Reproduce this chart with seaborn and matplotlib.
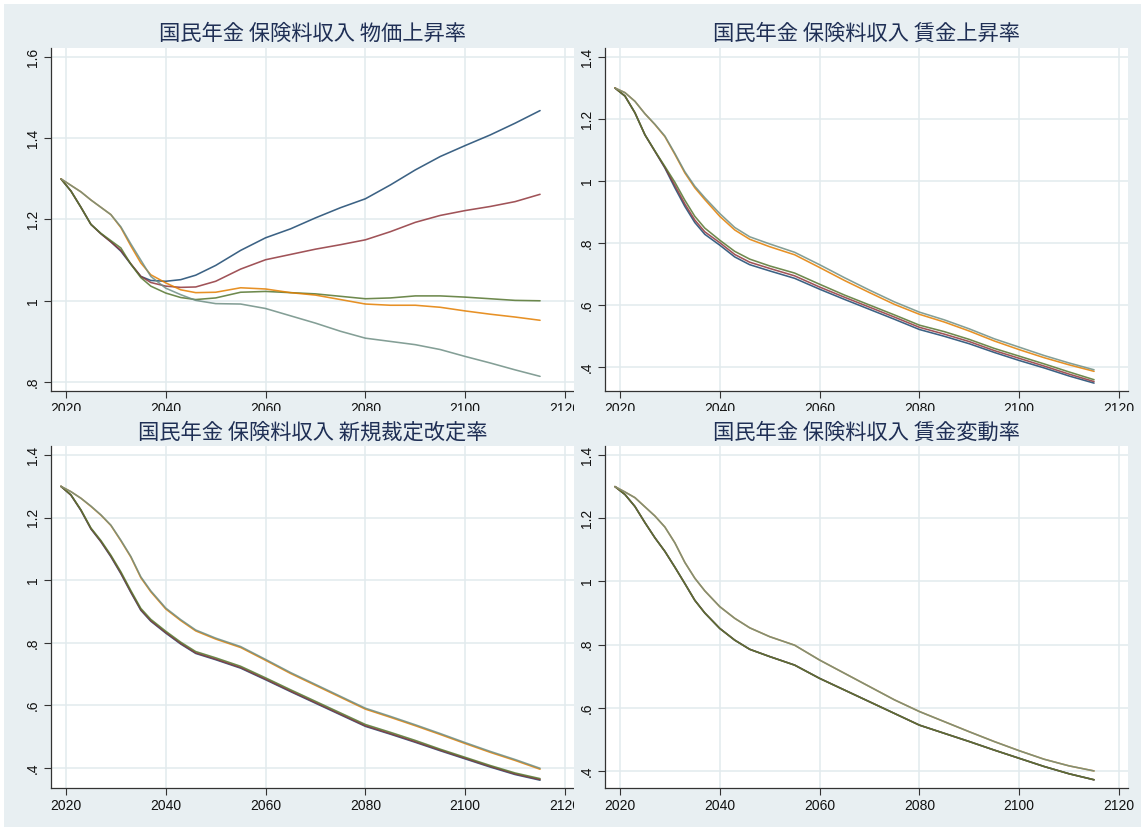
import matplotlib
matplotlib.use("Agg")
import matplotlib.pyplot as plt
import pandas as pd
import seaborn as sns

# ---- data ----
years = [2019, 2021, 2023, 2025, 2027, 2029, 2031, 2033, 2035, 2037, 2040, 2043, 2046,
         2050, 2055, 2060, 2065, 2070, 2075, 2080, 2085, 2090, 2095, 2100, 2105, 2110, 2115]

titles = ["国民年金 保険料収入 物価上昇率", "国民年金 保険料収入 賃金上昇率",
          "国民年金 保険料収入 新規裁定改定率", "国民年金 保険料収入 賃金変動率"]

series_names = ["s1", "s2", "s3", "s4", "s5"]

# panel 1: 物価上昇率
p1_s1 = [1.300, 1.270, 1.230, 1.188, 1.165, 1.145, 1.122, 1.090, 1.060, 1.050, 1.048, 1.052, 1.063,
         1.087, 1.124, 1.155, 1.177, 1.204, 1.229, 1.251, 1.285, 1.322, 1.355, 1.382, 1.408, 1.437, 1.468]
p1_s2 = [1.300, 1.270, 1.230, 1.188, 1.165, 1.145, 1.124, 1.091, 1.060, 1.045, 1.036, 1.033, 1.034,
         1.048, 1.078, 1.101, 1.114, 1.127, 1.138, 1.150, 1.170, 1.193, 1.210, 1.222, 1.232, 1.244, 1.262]
p1_s3 = [1.300, 1.270, 1.230, 1.188, 1.166, 1.148, 1.130, 1.090, 1.057, 1.036, 1.019, 1.008, 1.003,
         1.007, 1.021, 1.023, 1.020, 1.017, 1.011, 1.005, 1.007, 1.012, 1.012, 1.009, 1.005, 1.001, 1.000]
p1_s4 = [1.300, 1.284, 1.268, 1.248, 1.230, 1.212, 1.180, 1.135, 1.093, 1.064, 1.044, 1.027, 1.020,
         1.021, 1.032, 1.029, 1.020, 1.014, 1.003, 0.992, 0.989, 0.989, 0.984, 0.975, 0.967, 0.960, 0.952]
p1_s5 = [1.300, 1.284, 1.268, 1.248, 1.230, 1.212, 1.182, 1.140, 1.100, 1.060, 1.031, 1.015, 1.001,
         0.993, 0.992, 0.981, 0.963, 0.945, 0.925, 0.908, 0.900, 0.892, 0.880, 0.863, 0.847, 0.830, 0.814]

# panel 2: 賃金上昇率
p2_s1 = [1.300, 1.274, 1.220, 1.149, 1.096, 1.042, 0.978, 0.918, 0.866, 0.828, 0.793, 0.755, 0.730,
         0.710, 0.686, 0.651, 0.618, 0.586, 0.554, 0.521, 0.499, 0.475, 0.447, 0.421, 0.397, 0.371, 0.348]
p2_s2 = [1.300, 1.274, 1.220, 1.149, 1.096, 1.044, 0.986, 0.926, 0.874, 0.836, 0.801, 0.763, 0.738,
         0.718, 0.694, 0.658, 0.625, 0.593, 0.561, 0.528, 0.506, 0.482, 0.453, 0.428, 0.403, 0.377, 0.353]
p2_s3 = [1.300, 1.274, 1.220, 1.149, 1.097, 1.047, 0.996, 0.938, 0.886, 0.848, 0.809, 0.773, 0.748,
         0.726, 0.703, 0.667, 0.632, 0.600, 0.568, 0.535, 0.514, 0.489, 0.460, 0.435, 0.410, 0.384, 0.359]
p2_s4 = [1.300, 1.285, 1.257, 1.217, 1.182, 1.143, 1.086, 1.026, 0.978, 0.940, 0.886, 0.842, 0.812,
         0.788, 0.762, 0.721, 0.679, 0.640, 0.602, 0.570, 0.545, 0.516, 0.484, 0.456, 0.430, 0.407, 0.386]
p2_s5 = [1.300, 1.285, 1.257, 1.217, 1.183, 1.145, 1.089, 1.030, 0.983, 0.946, 0.895, 0.850, 0.820,
         0.797, 0.770, 0.730, 0.688, 0.648, 0.610, 0.577, 0.552, 0.523, 0.491, 0.464, 0.437, 0.413, 0.391]

# panel 3: 新規裁定改定率
p3_s1 = [1.300, 1.272, 1.223, 1.164, 1.123, 1.075, 1.021, 0.961, 0.904, 0.869, 0.831, 0.796, 0.766,
         0.746, 0.719, 0.682, 0.644, 0.607, 0.570, 0.533, 0.508, 0.482, 0.455, 0.429, 0.403, 0.379, 0.361]
p3_s2 = [1.300, 1.272, 1.224, 1.165, 1.124, 1.077, 1.023, 0.963, 0.906, 0.871, 0.833, 0.798, 0.768,
         0.748, 0.721, 0.684, 0.646, 0.609, 0.572, 0.535, 0.510, 0.484, 0.457, 0.431, 0.405, 0.381, 0.363]
p3_s3 = [1.300, 1.273, 1.225, 1.167, 1.127, 1.080, 1.027, 0.967, 0.910, 0.875, 0.837, 0.802, 0.772,
         0.752, 0.725, 0.688, 0.650, 0.613, 0.576, 0.539, 0.514, 0.488, 0.460, 0.434, 0.408, 0.384, 0.366]
p3_s4 = [1.300, 1.283, 1.262, 1.236, 1.208, 1.175, 1.126, 1.074, 1.008, 0.963, 0.908, 0.871, 0.838,
         0.812, 0.785, 0.744, 0.702, 0.664, 0.626, 0.588, 0.562, 0.535, 0.507, 0.478, 0.450, 0.424, 0.396]
p3_s5 = [1.300, 1.283, 1.262, 1.237, 1.209, 1.176, 1.128, 1.076, 1.011, 0.966, 0.911, 0.874, 0.841,
         0.815, 0.788, 0.747, 0.705, 0.667, 0.629, 0.591, 0.565, 0.538, 0.510, 0.481, 0.453, 0.427, 0.399]

# panel 4: 賃金変動率 (series overlap in two groups)
p4_low = [1.300, 1.275, 1.237, 1.186, 1.138, 1.095, 1.045, 0.993, 0.940, 0.900, 0.851, 0.814, 0.785,
          0.762, 0.735, 0.693, 0.656, 0.619, 0.582, 0.545, 0.519, 0.493, 0.466, 0.440, 0.414, 0.391, 0.372]
p4_high = [1.300, 1.283, 1.265, 1.236, 1.207, 1.172, 1.122, 1.060, 1.010, 0.970, 0.920, 0.883, 0.853,
           0.825, 0.798, 0.751, 0.709, 0.667, 0.625, 0.588, 0.556, 0.524, 0.493, 0.464, 0.437, 0.416, 0.400]

panels = [
    [p1_s1, p1_s2, p1_s3, p1_s4, p1_s5],
    [p2_s1, p2_s2, p2_s3, p2_s4, p2_s5],
    [p3_s1, p3_s2, p3_s3, p3_s4, p3_s5],
    [p4_low, p4_low, p4_low, p4_high, p4_high],
]

x_ticks = [2020, 2040, 2060, 2080, 2100, 2120]
y_ticks_p1 = [0.8, 1.0, 1.2, 1.4, 1.6]
y_labels_p1 = [".8", "1", "1.2", "1.4", "1.6"]
y_ticks = [0.4, 0.6, 0.8, 1.0, 1.2, 1.4]
y_labels = [".4", ".6", ".8", "1", "1.2", "1.4"]

# ---- style (Stata s2color look) ----
colors = ["#1a476f", "#90353b", "#55752f", "#e37e00", "#6e8e84"]
REGION = "#e8eff2"
GRID = "#e2ebee"
TITLE = "#1f2f55"

sns.set_theme(style="white")
plt.rcParams["font.family"] = ["Liberation Sans", "DejaVu Sans"]

W, H = 1141, 830
fig = plt.figure(figsize=(W / 100, H / 100), dpi=100, facecolor="white")


def frac(x0, y0, x1, y1):
    return [x0 / W, 1 - y1 / H, (x1 - x0) / W, (y1 - y0) / H]


regions = [(4, 4, 574, 411), (574, 4, 1141, 411), (4, 411, 574, 827), (574, 411, 1141, 827)]
plots = [(51, 48, 574, 391), (605, 48, 1128, 391), (51, 446, 574, 788), (605, 446, 1128, 788)]
ylims = [(0.778, 1.622), (0.3226, 1.429), (0.336, 1.429), (0.346, 1.4285)]
title_y = [34, 34, 433, 433]

for i in range(4):
    bg = fig.add_axes(frac(*regions[i]), zorder=2 * i)
    bg.set_facecolor(REGION)
    bg.set_xticks([])
    bg.set_yticks([])
    for sp in bg.spines.values():
        sp.set_visible(False)

    ax = fig.add_axes(frac(*plots[i]), zorder=2 * i + 1)
    ax.set_facecolor("white")
    df = pd.concat(
        [pd.DataFrame({"year": years, "value": vals, "series": name})
         for name, vals in zip(series_names, panels[i])],
        ignore_index=True)
    sns.lineplot(data=df, x="year", y="value", hue="series", hue_order=series_names,
                 palette=colors, estimator=None, linewidth=1.15, alpha=0.85,
                 legend=False, ax=ax)

    ax.set_xlim(2017, 2121.8)
    ax.set_ylim(*ylims[i])
    ax.set_xticks(x_ticks)
    ax.set_xticklabels([str(t) for t in x_ticks])
    if i == 0:
        ax.set_yticks(y_ticks_p1)
        ax.set_yticklabels(y_labels_p1, rotation=90, va="center")
    else:
        ax.set_yticks(y_ticks)
        ax.set_yticklabels(y_labels, rotation=90, va="center")
    ax.set_xlabel("")
    ax.set_ylabel("")
    ax.grid(True, color=GRID, linewidth=1.1)
    ax.set_axisbelow(True)
    ax.tick_params(direction="out", length=5, width=0.8, color="#333333",
                   labelsize=10, labelcolor="#111111", pad=3,
                   bottom=True, left=True)
    for side in ["top", "right"]:
        ax.spines[side].set_visible(False)
    for side in ["left", "bottom"]:
        ax.spines[side].set_color("#333333")
        ax.spines[side].set_linewidth(0.9)

    cx = (plots[i][0] + plots[i][2]) / 2
    fig.text(cx / W, 1 - title_y[i] / H, titles[i], ha="center", va="center",
             fontsize=15.3, color=TITLE, family=["Noto Sans CJK JP", "DejaVu Sans"],
             zorder=20)

fig.savefig("out.png", dpi=100, facecolor="white")
